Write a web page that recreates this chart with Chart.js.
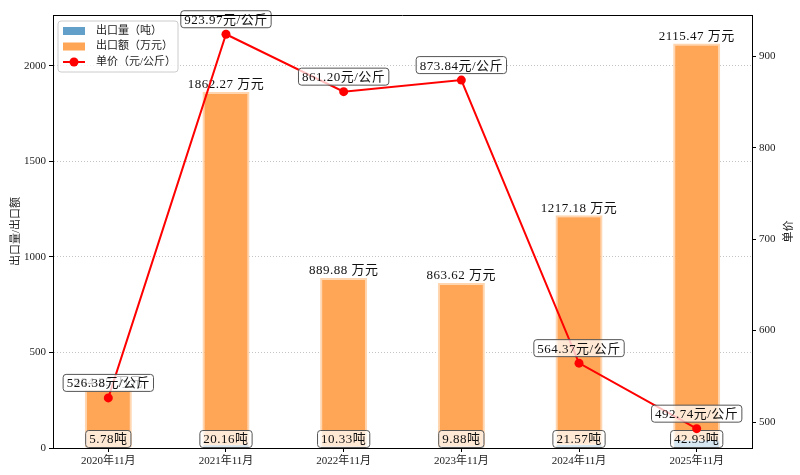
<!DOCTYPE html>
<html>
<head>
<meta charset="utf-8">
<script src="https://cdn.jsdelivr.net/npm/chart.js@4/dist/chart.umd.min.js"></script>
<style>
  body { margin: 0; background: #fff; }
  #wrap { width: 800px; height: 475px; }
</style>
</head>
<body>
<div id="wrap"><canvas id="chart" width="800" height="475"></canvas></div>
<script>
// data
const categories = ['2020年11月', '2021年11月', '2022年11月', '2023年11月', '2024年11月', '2025年11月'];
const exportQty = [5.78, 20.16, 10.33, 9.88, 21.57, 42.93];              // 吨
const exportAmount = [304.25, 1862.27, 889.88, 863.62, 1217.18, 2115.47]; // 万元
const unitPrice = [526.38, 923.97, 861.20, 873.84, 564.37, 492.74];      // 元/公斤
const leftTicks = [0, 500, 1000, 1500, 2000];
const rightTicks = [500, 600, 700, 800, 900];

const FONT = '"Liberation Serif", "Noto Sans CJK SC", serif';
const BLUE = 'rgb(98,160,202)';
const ORANGE = 'rgb(255,165,86)';

Chart.defaults.font.family = FONT;
Chart.defaults.color = '#222';

let toPoints = (arr) => arr.map((v, i) => ({ x: i, y: v }));

let drawBox = (ctx, text, cx, cy) => {
    let w = ctx.measureText(text).width + 7, h = 17;
    ctx.beginPath();
    ctx.roundRect(cx - w / 2, cy - h / 2, w, h, 3);
    ctx.fillStyle = 'rgba(255,255,255,0.75)';
    ctx.fill();
    ctx.lineWidth = 1;
    ctx.strokeStyle = '#555';
    ctx.stroke();
    ctx.fillStyle = '#111';
    ctx.fillText(text, cx, cy + 1);
};

let setLabelFont = (ctx) => {
    ctx.font = '13px ' + FONT;
    ctx.letterSpacing = '0.5px';
    ctx.textAlign = 'center';
    ctx.textBaseline = 'middle';
};

// value labels on bars and points
const labelPlugin = {
    id: 'labels',
    afterDatasetDraw(chart, args) {
        let ctx = chart.ctx;
        ctx.save();
        setLabelFont(ctx);
        if (args.index === 1) {          // amount labels, under the line
            args.meta.data.forEach((el, i) => {
                ctx.fillStyle = '#111';
                ctx.fillText(exportAmount[i].toFixed(2) + ' 万元', el.x, el.y - 7);
            });
        }
        if (args.index === 0) {          // quantity labels at the foot of the bars
            let y0 = chart.scales.y.getPixelForValue(0);
            args.meta.data.forEach((el, i) => {
                drawBox(ctx, exportQty[i].toFixed(2) + '吨', el.x, y0 - 9);
            });
        }
        ctx.restore();
    },
    afterDatasetsDraw(chart) {
        let ctx = chart.ctx;
        ctx.save();
        setLabelFont(ctx);
        chart.getDatasetMeta(2).data.forEach((el, i) => {
            drawBox(ctx, unitPrice[i].toFixed(2) + '元/公斤', el.x, el.y - 15);
        });
        ctx.restore();
    },
    afterDraw(chart) {
        let ctx = chart.ctx, a = chart.chartArea;
        ctx.save();
        // top spine
        ctx.strokeStyle = '#000';
        ctx.lineWidth = 1;
        ctx.beginPath();
        ctx.moveTo(a.left, a.top + 0.5);
        ctx.lineTo(a.right, a.top + 0.5);
        ctx.stroke();

        // right axis title, reading bottom to top
        ctx.font = '11px ' + FONT;
        ctx.fillStyle = '#222';
        ctx.textAlign = 'center';
        ctx.textBaseline = 'middle';
        ctx.translate(chart.scales.y1.right - 11, (a.top + a.bottom) / 2);
        ctx.rotate(-Math.PI / 2);
        ctx.fillText('单价', 0, 0);
        ctx.setTransform(1, 0, 0, 1, 0, 0);
        ctx.scale(chart.currentDevicePixelRatio, chart.currentDevicePixelRatio);

        // legend in upper left corner
        let lx = a.left + 5, ly = a.top + 6;
        ctx.beginPath();
        ctx.roundRect(lx, ly, 120, 51, 3);
        ctx.fillStyle = 'rgba(255,255,255,0.8)';
        ctx.fill();
        ctx.strokeStyle = '#ccc';
        ctx.stroke();

        ctx.textAlign = 'left';
        let ds = chart.data.datasets;
        ds.forEach((d, i) => {
            let ry = ly + 10 + i * 15.5;
            if (d.type === 'line') {
                ctx.strokeStyle = d.borderColor;
                ctx.lineWidth = 2;
                ctx.beginPath();
                ctx.moveTo(lx + 5, ry);
                ctx.lineTo(lx + 27, ry);
                ctx.stroke();
                ctx.beginPath();
                ctx.arc(lx + 16, ry, 4.5, 0, Math.PI * 2);
                ctx.fillStyle = d.borderColor;
                ctx.fill();
            } else {
                ctx.fillStyle = d.backgroundColor;
                ctx.fillRect(lx + 5, ry - 4, 22, 8);
            }
            ctx.fillStyle = '#222';
            ctx.fillText(d.label, lx + 38, ry);
        });
        ctx.restore();
    }
};

let ctx = document.querySelector('#chart');
new Chart(ctx, {
    type: 'bar',
    data: {
        datasets: [
            {
                label: '出口量（吨）',
                data: toPoints(exportQty),
                backgroundColor: BLUE,
                borderColor: 'rgba(255,255,255,0.4)',
                borderWidth: 1,
                grouped: false,
                barPercentage: 0.4,
                categoryPercentage: 1,
                yAxisID: 'y',
                order: 1
            },
            {
                label: '出口额（万元）',
                data: toPoints(exportAmount),
                backgroundColor: ORANGE,
                borderColor: 'rgb(255,214,176)',
                borderWidth: 2,
                grouped: false,
                barPercentage: 0.4,
                categoryPercentage: 1,
                yAxisID: 'y',
                order: 2
            },
            {
                type: 'line',
                label: '单价（元/公斤）',
                data: toPoints(unitPrice),
                borderColor: 'rgb(255,0,0)',
                backgroundColor: 'rgb(255,0,0)',
                borderWidth: 2,
                pointRadius: 4.5,
                pointBackgroundColor: 'rgb(255,0,0)',
                pointBorderWidth: 0,
                yAxisID: 'y1',
                order: 0
            }
        ]
    },
    options: {
        responsive: false,
        animation: false,
        layout: { padding: { top: 15, left: 0, right: 0, bottom: 0 } },
        plugins: { legend: { display: false }, tooltip: { enabled: false } },
        scales: {
            x: {
                type: 'linear',
                min: -0.47,
                max: 5.47,
                offset: false,
                afterBuildTicks: (s) => { s.ticks = categories.map((c, i) => ({ value: i })); },
                afterFit: (s) => { s.height = 27; },
                ticks: {
                    callback: (v) => categories[v],
                    autoSkip: false,
                    maxRotation: 0,
                    padding: 3,
                    font: { size: 11 }
                },
                grid: { offset: false, drawOnChartArea: false, tickLength: 4, tickColor: '#000' },
                border: { display: true, color: '#000', width: 1 }
            },
            y: {
                position: 'left',
                min: 0,
                max: 2265,
                afterBuildTicks: (s) => { s.ticks = leftTicks.map(v => ({ value: v })); },
                afterFit: (s) => { s.width = 53; },
                ticks: { padding: 3, font: { size: 11 }, callback: (v) => String(v) },
                grid: { color: '#c4c4c4', lineWidth: 1, tickLength: 4, tickColor: '#000', tickBorderDash: [] },
                border: { display: true, color: '#000', width: 1, dash: [1, 2] },
                title: { display: true, text: '出口量/出口额', font: { size: 11 }, padding: { top: 10, bottom: 4 } }
            },
            y1: {
                position: 'right',
                min: 471.6,
                max: 945,
                afterBuildTicks: (s) => { s.ticks = rightTicks.map(v => ({ value: v })); },
                afterFit: (s) => { s.width = 48; },
                ticks: { padding: 3, font: { size: 11 } },
                grid: { drawOnChartArea: false, tickLength: 4, tickColor: '#000' },
                border: { display: true, color: '#000', width: 1 }
            }
        }
    },
    plugins: [labelPlugin]
});
</script>
</body>
</html>
